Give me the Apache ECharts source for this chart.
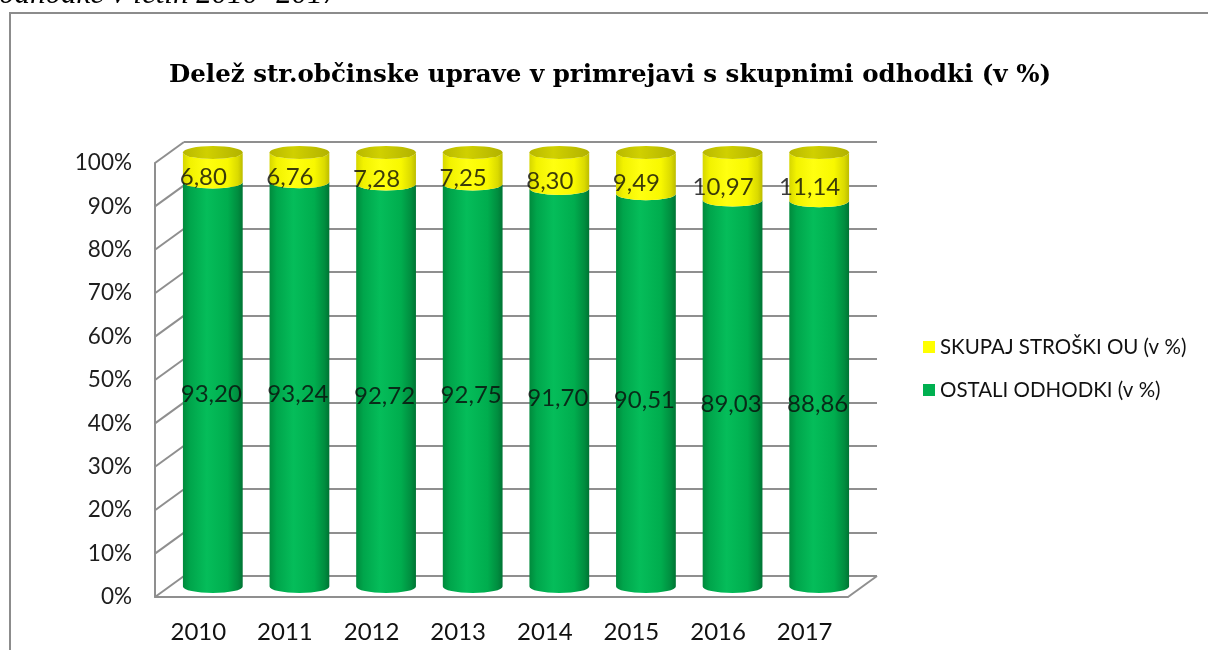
<!DOCTYPE html>
<html>
<head>
<meta charset="utf-8">
<script src="https://cdn.jsdelivr.net/npm/echarts@6/dist/echarts.min.js"></script>
<style>
  html, body { margin: 0; padding: 0; background: #fff; }
  #chart { width: 1208px; height: 650px; }
</style>
</head>
<body>
<div id="chart"></div>
<script>
// ---- data ----
const years = ['2010', '2011', '2012', '2013', '2014', '2015', '2016', '2017'];
const ostali = [93.20, 93.24, 92.72, 92.75, 91.70, 90.51, 89.03, 88.86];
const skupaj = [6.80, 6.76, 7.28, 7.25, 8.30, 9.49, 10.97, 11.14];
const yTicks = [0, 10, 20, 30, 40, 50, 60, 70, 80, 90, 100];
const nameSkupaj = 'SKUPAJ STROŠKI OU (v %)';
const nameOstali = 'OSTALI ODHODKI (v %)';
const titleText = 'Delež str.občinske uprave v primrejavi s skupnimi odhodki (v %)';
const captionText = 'odhodke v letih 2010 -2017';

// ---- layout ----
const FRONT = { left: 155, top: 163, width: 693, height: 434 };
const DX = 29, DY = 21;
const BACK = { left: FRONT.left + DX, top: FRONT.top - DY, width: 693, height: 434 };
const MID = { left: FRONT.left + DX / 2, top: FRONT.top - DY / 2, width: 693, height: 434 };
const GRID_COLOR = '#8f8f8f';
const FONT = 'Lato';

const fmt = v => v.toFixed(2).replace('.', ',');

function segPath(cx, rx, ry, yt, yb) {
  return 'M' + (cx - rx) + ',' + yt +
    ' A' + rx + ',' + ry + ' 0 0 0 ' + (cx + rx) + ',' + yt +
    ' L' + (cx + rx) + ',' + yb +
    ' A' + rx + ',' + ry + ' 0 0 1 ' + (cx - rx) + ',' + yb + ' Z';
}
function ellPath(cx, rx, ry, y) {
  return 'M' + (cx - rx) + ',' + y +
    ' A' + rx + ',' + ry + ' 0 1 0 ' + (cx + rx) + ',' + y +
    ' A' + rx + ',' + ry + ' 0 1 0 ' + (cx - rx) + ',' + y + ' Z';
}
const greenGrad = () => new echarts.graphic.LinearGradient(0, 0, 1, 0, [
  { offset: 0, color: '#008a3c' },
  { offset: 0.12, color: '#00a54b' },
  { offset: 0.4, color: '#05bd5a' },
  { offset: 0.75, color: '#00ad4e' },
  { offset: 0.92, color: '#008d3f' },
  { offset: 1, color: '#007434' }
]);
const yellowGrad = () => new echarts.graphic.LinearGradient(0, 0, 1, 0, [
  { offset: 0, color: '#d6d600' },
  { offset: 0.12, color: '#f2f200' },
  { offset: 0.4, color: '#ffff10' },
  { offset: 0.75, color: '#f8f800' },
  { offset: 0.92, color: '#dada00' },
  { offset: 1, color: '#bcbc00' }
]);
const topGrad = () => new echarts.graphic.LinearGradient(0, 0, 1, 0, [
  { offset: 0, color: '#b8b800' },
  { offset: 0.4, color: '#d0d000' },
  { offset: 1, color: '#b2b200' }
]);
const RY = 6.5;
const BAR_FRAC = 0.69;

const chart = echarts.init(document.getElementById('chart'), null, { renderer: 'canvas' });

const option = {
  backgroundColor: '#ffffff',
  animation: false,
  textStyle: { fontFamily: FONT },
  graphic: [
    { type: 'rect', shape: { x: 10, y: 13, width: 1400, height: 800 },
      style: { fill: 'none', stroke: '#8c8c8c', lineWidth: 2 }, silent: true, z: -10 },
    { type: 'text', x: -1, y: -21,
      style: { text: captionText, font: 'italic 31px "Liberation Serif"', fill: '#000', textVerticalAlign: 'top' } },
    { type: 'text', x: 610, y: 63,
      style: { text: titleText, font: 'bold 24.5px "DejaVu Serif"', fill: '#000', textAlign: 'center', textVerticalAlign: 'top' } }
  ],
  legend: {
    orient: 'vertical', left: 918, top: 330,
    itemWidth: 12, itemHeight: 12, itemGap: 19, icon: 'rect',
    textStyle: { fontFamily: FONT, fontSize: 20.5, color: '#111', lineHeight: 24 },
    data: [nameSkupaj, nameOstali],
    selectedMode: false
  },
  grid: [
    Object.assign({ containLabel: false }, FRONT),
    Object.assign({ containLabel: false }, BACK),
    Object.assign({ containLabel: false }, MID)
  ],
  xAxis: [
    { type: 'category', gridIndex: 0, data: years,
      axisLine: { show: true, lineStyle: { color: GRID_COLOR, width: 2 } },
      axisTick: { show: false },
      axisLabel: { fontFamily: FONT, fontSize: 24, color: '#111', margin: 23 } },
    { type: 'category', gridIndex: 1, data: years,
      axisLine: { show: false }, axisTick: { show: false }, axisLabel: { show: false } },
    { type: 'category', gridIndex: 2, data: years,
      axisLine: { show: false }, axisTick: { show: false }, axisLabel: { show: false } }
  ],
  yAxis: [
    { type: 'value', gridIndex: 0, min: 0, max: 100, interval: 10,
      axisLine: { show: true, lineStyle: { color: GRID_COLOR, width: 2 } },
      axisTick: { show: false }, splitLine: { show: false },
      axisLabel: { fontFamily: FONT, fontSize: 22.5, color: '#1e1e1e', margin: 23, formatter: '{value}%' } },
    { type: 'value', gridIndex: 1, min: 0, max: 100, interval: 10,
      axisLine: { show: false }, axisTick: { show: false }, axisLabel: { show: false },
      splitLine: { show: true, lineStyle: { color: GRID_COLOR, width: 2 } } },
    { type: 'value', gridIndex: 2, min: 0, max: 100, interval: 10,
      axisLine: { show: false }, axisTick: { show: false }, axisLabel: { show: false },
      splitLine: { show: false } }
  ],
  series: [
    // side wall diagonals & floor right edge
    { type: 'custom', xAxisIndex: 0, yAxisIndex: 0, silent: true, z: 1,
      data: yTicks.map(v => [0, v]),
      renderItem: function (params, api) {
        const cs = params.coordSys;
        const y = api.coord([0, api.value(1)])[1];
        const children = [{ type: 'line', shape: { x1: cs.x, y1: y, x2: cs.x + DX, y2: y - DY },
          style: { stroke: GRID_COLOR, lineWidth: 2 } }];
        if (api.value(1) === 0) {
          children.push({ type: 'line', shape: { x1: cs.x + cs.width, y1: y, x2: cs.x + cs.width + DX, y2: y - DY },
            style: { stroke: GRID_COLOR, lineWidth: 2 } });
        }
        return { type: 'group', children: children };
      }
    },
    // green cylinders
    { type: 'custom', name: nameOstali, xAxisIndex: 2, yAxisIndex: 2, z: 5,
      itemStyle: { color: '#00b050' },
      data: ostali.map((v, i) => [i, v]),
      renderItem: function (params, api) {
        const i = api.value(0), v = api.value(1);
        const p0 = api.coord([i, 0]), p1 = api.coord([i, v]);
        const rx = api.size([1, 0])[0] * BAR_FRAC / 2;
        return { type: 'path', shape: { pathData: segPath(p0[0], rx, RY, p1[1], p0[1]) },
          style: { fill: greenGrad() } };
      }
    },
    // yellow cylinders
    { type: 'custom', name: nameSkupaj, xAxisIndex: 2, yAxisIndex: 2, z: 6,
      itemStyle: { color: '#ffff00' },
      data: skupaj.map((v, i) => [i, ostali[i], v]),
      renderItem: function (params, api) {
        const i = api.value(0), base = api.value(1), v = api.value(2);
        const p1 = api.coord([i, base]), p2 = api.coord([i, base + v]);
        const cx = p1[0];
        const rx = api.size([1, 0])[0] * BAR_FRAC / 2;
        return { type: 'group', children: [
          { type: 'path', shape: { pathData: segPath(cx, rx, RY, p2[1], p1[1]) }, style: { fill: yellowGrad() } },
          { type: 'path', shape: { pathData: ellPath(cx, rx, RY, p2[1]) }, style: { fill: topGrad() } }
        ] };
      }
    },
    // labels green
    { type: 'scatter', xAxisIndex: 0, yAxisIndex: 0, z: 10, silent: true,
      symbolSize: 1, itemStyle: { color: 'rgba(0,0,0,0)' },
      data: ostali.map((v, i) => [i, v / 2, v]),
      label: { show: true, position: 'inside', offset: [13, 0], fontFamily: FONT, fontSize: 24, color: '#0a0a0a',
        formatter: p => fmt(p.value[2]) }
    },
    // labels yellow
    { type: 'scatter', xAxisIndex: 0, yAxisIndex: 0, z: 10, silent: true,
      symbolSize: 1, itemStyle: { color: 'rgba(0,0,0,0)' },
      data: skupaj.map((v, i) => [i, ostali[i] + v / 2, v]),
      label: { show: true, position: 'inside', offset: [5, 0], fontFamily: FONT, fontSize: 24, color: '#0a0a0a',
        formatter: p => fmt(p.value[2]) }
    }
  ]
};
chart.setOption(option);
</script>
</body>
</html>
